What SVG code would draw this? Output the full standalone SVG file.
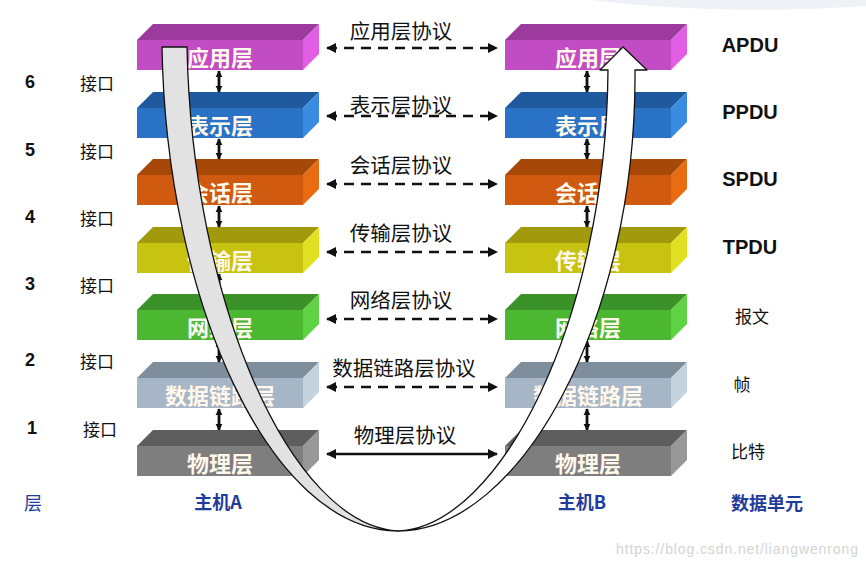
<svg xmlns="http://www.w3.org/2000/svg" width="866" height="567" viewBox="0 0 866 567">
<defs>
<style>
.bt{font-family:"Noto Sans CJK SC","Liberation Sans",sans-serif;font-size:22px;font-weight:bold;fill:#fff8ec;text-anchor:middle;dominant-baseline:central}
.num{font-family:"Liberation Sans",Arial,sans-serif;font-size:18px;font-weight:bold;fill:#111;text-anchor:middle;dominant-baseline:central}
.cn{font-family:"Noto Sans CJK SC","Liberation Serif",serif;font-size:17px;fill:#111;text-anchor:middle;dominant-baseline:central}
.pl{font-family:"Noto Sans CJK SC","Liberation Serif",serif;font-size:20.5px;fill:#111;text-anchor:middle;dominant-baseline:central}
.pdu{font-family:"Liberation Sans",Arial,sans-serif;font-size:20px;font-weight:bold;fill:#111;text-anchor:middle;dominant-baseline:central}
.blue{font-family:"Noto Sans CJK SC","Liberation Sans",sans-serif;font-size:18px;font-weight:bold;fill:#1f3c9c;text-anchor:middle;dominant-baseline:central}
.dash{stroke:#111;stroke-width:2.6;stroke-dasharray:10 7;fill:none}
.solid{stroke:#111;stroke-width:2.6;fill:none}
.va{stroke:#111;stroke-width:2.8;fill:none}
.rib{stroke:#111;stroke-width:1.3;stroke-linejoin:round}
</style>
<marker id="ah" viewBox="0 0 10 10" refX="9" refY="5" markerWidth="11" markerHeight="10" markerUnits="userSpaceOnUse" orient="auto-start-reverse">
<path d="M0,0 L10,5 L0,10 Z" fill="#111"/>
</marker>
<marker id="vh" viewBox="0 0 10 10" refX="9" refY="5" markerWidth="7" markerHeight="10" markerUnits="userSpaceOnUse" orient="auto-start-reverse">
<path d="M0,0 L10,5 L0,10 Z" fill="#111"/>
</marker>
</defs>
<rect width="866" height="567" fill="#ffffff"/>
<path d="M590,0 Q720,16 866,6 L866,0 Z" fill="#eef2f6"/>

<g id="hostA-app" transform="translate(137,40)">
<polygon points="0,0 16,-16 182,-16 166,0" fill="#9c3a9e"/>
<rect width="166" height="30" fill="#c24cc4"/>
<polygon points="166,0 182,-16 182,14 166,30" fill="#e25ee4"/>
<text class="bt" x="83" y="16">应用层</text>
</g>
<g id="hostA-pres" transform="translate(137,108)">
<polygon points="0,0 16,-16 182,-16 166,0" fill="#1f5a9e"/>
<rect width="166" height="30" fill="#2a72c6"/>
<polygon points="166,0 182,-16 182,14 166,30" fill="#3a8ce0"/>
<text class="bt" x="83" y="16">表示层</text>
</g>
<g id="hostA-sess" transform="translate(137,175)">
<polygon points="0,0 16,-16 182,-16 166,0" fill="#a64808"/>
<rect width="166" height="30" fill="#d05a10"/>
<polygon points="166,0 182,-16 182,14 166,30" fill="#ea6c12"/>
<text class="bt" x="83" y="16">会话层</text>
</g>
<g id="hostA-trans" transform="translate(137,243)">
<polygon points="0,0 16,-16 182,-16 166,0" fill="#a09a0c"/>
<rect width="166" height="30" fill="#c8c210"/>
<polygon points="166,0 182,-16 182,14 166,30" fill="#e2e022"/>
<text class="bt" x="83" y="16">传输层</text>
</g>
<g id="hostA-net" transform="translate(137,310)">
<polygon points="0,0 16,-16 182,-16 166,0" fill="#3a9228"/>
<rect width="166" height="30" fill="#4cb832"/>
<polygon points="166,0 182,-16 182,14 166,30" fill="#5ed242"/>
<text class="bt" x="83" y="16">网络层</text>
</g>
<g id="hostA-link" transform="translate(137,378)">
<polygon points="0,0 16,-16 182,-16 166,0" fill="#7e8e9c"/>
<rect width="166" height="30" fill="#a6b6c6"/>
<polygon points="166,0 182,-16 182,14 166,30" fill="#c2d2de"/>
<text class="bt" x="83" y="16">数据链路层</text>
</g>
<g id="hostA-phys" transform="translate(137,446)">
<polygon points="0,0 16,-16 182,-16 166,0" fill="#5e5e5e"/>
<rect width="166" height="30" fill="#7e7e7e"/>
<polygon points="166,0 182,-16 182,14 166,30" fill="#989898"/>
<text class="bt" x="83" y="16">物理层</text>
</g>

<g id="hostB-app" transform="translate(505,40)">
<polygon points="0,0 16,-16 182,-16 166,0" fill="#9c3a9e"/>
<rect width="166" height="30" fill="#c24cc4"/>
<polygon points="166,0 182,-16 182,14 166,30" fill="#e25ee4"/>
<text class="bt" x="83" y="16">应用层</text>
</g>
<g id="hostB-pres" transform="translate(505,108)">
<polygon points="0,0 16,-16 182,-16 166,0" fill="#1f5a9e"/>
<rect width="166" height="30" fill="#2a72c6"/>
<polygon points="166,0 182,-16 182,14 166,30" fill="#3a8ce0"/>
<text class="bt" x="83" y="16">表示层</text>
</g>
<g id="hostB-sess" transform="translate(505,175)">
<polygon points="0,0 16,-16 182,-16 166,0" fill="#a64808"/>
<rect width="166" height="30" fill="#d05a10"/>
<polygon points="166,0 182,-16 182,14 166,30" fill="#ea6c12"/>
<text class="bt" x="83" y="16">会话层</text>
</g>
<g id="hostB-trans" transform="translate(505,243)">
<polygon points="0,0 16,-16 182,-16 166,0" fill="#a09a0c"/>
<rect width="166" height="30" fill="#c8c210"/>
<polygon points="166,0 182,-16 182,14 166,30" fill="#e2e022"/>
<text class="bt" x="83" y="16">传输层</text>
</g>
<g id="hostB-net" transform="translate(505,310)">
<polygon points="0,0 16,-16 182,-16 166,0" fill="#3a9228"/>
<rect width="166" height="30" fill="#4cb832"/>
<polygon points="166,0 182,-16 182,14 166,30" fill="#5ed242"/>
<text class="bt" x="83" y="16">网络层</text>
</g>
<g id="hostB-link" transform="translate(505,378)">
<polygon points="0,0 16,-16 182,-16 166,0" fill="#7e8e9c"/>
<rect width="166" height="30" fill="#a6b6c6"/>
<polygon points="166,0 182,-16 182,14 166,30" fill="#c2d2de"/>
<text class="bt" x="83" y="16">数据链路层</text>
</g>
<g id="hostB-phys" transform="translate(505,446)">
<polygon points="0,0 16,-16 182,-16 166,0" fill="#5e5e5e"/>
<rect width="166" height="30" fill="#7e7e7e"/>
<polygon points="166,0 182,-16 182,14 166,30" fill="#989898"/>
<text class="bt" x="83" y="16">物理层</text>
</g>

<g id="connectors">
<line class="dash" x1="327" y1="48" x2="497" y2="48" marker-start="url(#ah)" marker-end="url(#ah)"/>
<line class="dash" x1="327" y1="116" x2="497" y2="116" marker-start="url(#ah)" marker-end="url(#ah)"/>
<line class="dash" x1="327" y1="184" x2="497" y2="184" marker-start="url(#ah)" marker-end="url(#ah)"/>
<line class="dash" x1="327" y1="252" x2="497" y2="252" marker-start="url(#ah)" marker-end="url(#ah)"/>
<line class="dash" x1="327" y1="319" x2="497" y2="319" marker-start="url(#ah)" marker-end="url(#ah)"/>
<line class="dash" x1="327" y1="387" x2="497" y2="387" marker-start="url(#ah)" marker-end="url(#ah)"/>
<line class="solid" x1="327" y1="454" x2="497" y2="454" marker-start="url(#ah)" marker-end="url(#ah)"/>

<line class="va" x1="219" y1="71" x2="219" y2="92" marker-start="url(#vh)" marker-end="url(#vh)"/>
<line class="va" x1="219" y1="139" x2="219" y2="159" marker-start="url(#vh)" marker-end="url(#vh)"/>
<line class="va" x1="219" y1="206" x2="219" y2="227" marker-start="url(#vh)" marker-end="url(#vh)"/>
<line class="va" x1="219" y1="274" x2="219" y2="294" marker-start="url(#vh)" marker-end="url(#vh)"/>
<line class="va" x1="219" y1="341" x2="219" y2="362" marker-start="url(#vh)" marker-end="url(#vh)"/>
<line class="va" x1="219" y1="409" x2="219" y2="430" marker-start="url(#vh)" marker-end="url(#vh)"/>

<line class="va" x1="587" y1="71" x2="587" y2="92" marker-start="url(#vh)" marker-end="url(#vh)"/>
<line class="va" x1="587" y1="139" x2="587" y2="159" marker-start="url(#vh)" marker-end="url(#vh)"/>
<line class="va" x1="587" y1="206" x2="587" y2="227" marker-start="url(#vh)" marker-end="url(#vh)"/>
<line class="va" x1="587" y1="274" x2="587" y2="294" marker-start="url(#vh)" marker-end="url(#vh)"/>
<line class="va" x1="587" y1="341" x2="587" y2="362" marker-start="url(#vh)" marker-end="url(#vh)"/>
<line class="va" x1="587" y1="409" x2="587" y2="430" marker-start="url(#vh)" marker-end="url(#vh)"/>

<path class="rib" fill="#e2e2e2" d="M162,47 L187,47 C192,300 290,525 398,531 C270,531 166,300 162,47 Z"/>
<path class="rib" fill="#ffffff" d="M398,531 C500,527 606,320 608,70 L600,70 L623,47 L647,70 L635,70 C637,320 520,531 398,531 Z"/>
</g>

<g id="protocol-labels">
<text class="pl" x="401" y="30">应用层协议</text>
<text class="pl" x="401" y="104">表示层协议</text>
<text class="pl" x="401" y="164">会话层协议</text>
<text class="pl" x="401" y="232">传输层协议</text>
<text class="pl" x="401" y="299">网络层协议</text>
<text class="pl" x="404" y="367">数据链路层协议</text>
<text class="pl" x="405" y="434">物理层协议</text>
</g>

<g id="layer-labels">
<text class="num" x="30" y="82">6</text>
<text class="num" x="30" y="150">5</text>
<text class="num" x="30" y="217">4</text>
<text class="num" x="30" y="284">3</text>
<text class="num" x="30" y="360">2</text>
<text class="num" x="32" y="428">1</text>
<text class="cn" x="97" y="82">接口</text>
<text class="cn" x="97" y="150">接口</text>
<text class="cn" x="97" y="217">接口</text>
<text class="cn" x="97" y="284">接口</text>
<text class="cn" x="97" y="360">接口</text>
<text class="cn" x="100" y="428">接口</text>
<text class="blue" x="33" y="502" style="font-weight:normal">层</text>
</g>

<g id="pdu-labels">
<text class="pdu" x="750" y="45">APDU</text>
<text class="pdu" x="750" y="112">PPDU</text>
<text class="pdu" x="750" y="179">SPDU</text>
<text class="pdu" x="750" y="247">TPDU</text>
<text class="cn" x="752" y="315">报文</text>
<text class="cn" x="742" y="383">帧</text>
<text class="cn" x="748" y="450">比特</text>
<text class="blue" x="767" y="502">数据单元</text>
</g>

<g id="host-labels">
<text class="blue" x="218" y="501">主机A</text>
<text class="blue" x="582" y="501">主机B</text>
</g>

<text x="616" y="554" font-family="Liberation Sans, Arial, sans-serif" font-size="14" fill="#d4d4d4" textLength="242">https://blog.csdn.net/liangwenrong</text>
</svg>
